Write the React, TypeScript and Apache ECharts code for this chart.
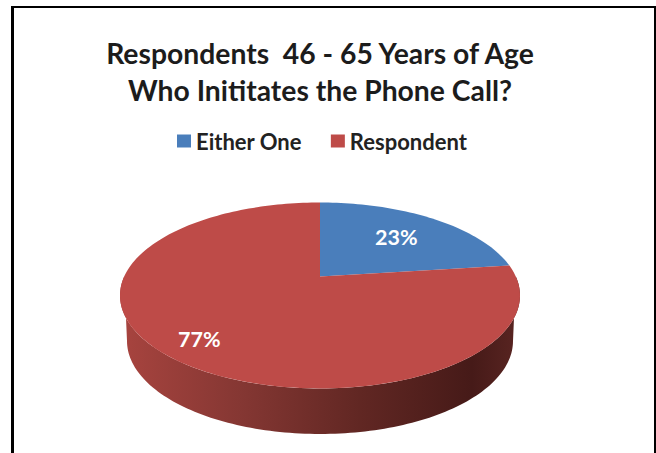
import React, { useEffect, useRef } from "react";
import * as echarts from "echarts";

const titleLines = ["Respondents  46 - 65 Years of Age", "Who Inititates the Phone Call?"];
const sliceNames = ["Either One", "Respondent"];
const sliceValues = [23, 77];
const sliceColors = ["#4a7ebb", "#be4b48"];
const labelInsets = [0.68, 0.79];

// Tilted pie: a projected unit circle whose centre sits above the middle of the ellipse.
const APEX_X = 320;
const APEX_Y = 276.5;
const SPREAD_X = 195.8;
const SPREAD_Y = 89.1;
const PERSPECTIVE = 0.204;
const WALL_DROP = 46;
const WALL_RX = 193;

const project = (turn: number) => {
  const a = turn * 2 * Math.PI;
  const u = Math.sin(a);
  const v = Math.cos(a);
  const d = 1 + PERSPECTIVE * v;
  return [APEX_X + (SPREAD_X * u) / d, APEX_Y - (SPREAD_Y * v) / d];
};

const total = sliceValues.reduce((s, v) => s + v, 0);

function rimPoints(fromTurn: number, toTurn: number) {
  const steps = Math.max(8, Math.ceil((toTurn - fromTurn) * 240));
  const pts: number[][] = [];
  for (let i = 0; i <= steps; i++) pts.push(project(fromTurn + ((toTurn - fromTurn) * i) / steps));
  return pts;
}

function wallPoints() {
  const top = rimPoints(0.25, 0.75);
  const cy = APEX_Y + 18.5 + WALL_DROP;
  const bottom: number[][] = [];
  for (let i = 0; i <= 120; i++) {
    const a = Math.PI - (Math.PI * i) / 120;
    bottom.push([APEX_X + WALL_RX * Math.cos(a), cy + 93 * Math.sin(a)]);
  }
  return [...top, ...bottom];
}

function sliceSeries(index: number) {
  const before = sliceValues.slice(0, index).reduce((s, v) => s + v, 0);
  return {
    type: "custom" as const,
    name: sliceNames[index],
    coordinateSystem: "none" as const,
    silent: true,
    z: 2,
    itemStyle: { color: sliceColors[index] },
    data: [[sliceValues[index], before]],
    renderItem: (_p: unknown, api: any) => {
      const value = api.value(0) as number;
      const start = (api.value(1) as number) / total;
      const end = start + value / total;
      const labelAt = project((start + end) / 2);
      const inset = labelInsets[index];
      return {
        type: "group",
        children: [
          {
            type: "polygon",
            shape: { points: [[APEX_X, APEX_Y], ...rimPoints(start, end)] },
            style: { fill: sliceColors[index] },
          },
          {
            type: "text",
            x: APEX_X + (labelAt[0] - APEX_X) * inset,
            y: APEX_Y + (labelAt[1] - APEX_Y) * inset,
            style: {
              text: `${value}%`,
              fill: "#ffffff",
              font: "bold 21.5px Lato",
              align: "center",
              verticalAlign: "middle",
            },
          },
        ],
      };
    },
  };
}

const wallSeries = {
  type: "custom" as const,
  coordinateSystem: "none" as const,
  silent: true,
  z: 1,
  data: [[0]],
  renderItem: () => ({
    type: "polygon",
    shape: { points: wallPoints() },
    style: {
      fill: new echarts.graphic.LinearGradient(0, 0, 1, 0, [
        { offset: 0, color: "#a8443f" },
        { offset: 0.3, color: "#853733" },
        { offset: 0.6, color: "#612723" },
        { offset: 0.88, color: "#461a18" },
        { offset: 1, color: "#5a2522" },
      ]),
    },
  }),
};

const frameLine = (x1: number, y1: number, x2: number, y2: number, lineWidth: number) => ({
  type: "line",
  shape: { x1, y1, x2, y2 },
  style: { stroke: "#000000", lineWidth },
  z: 10,
});

export default function App() {
  const ref = useRef<HTMLDivElement>(null);
  useEffect(() => {
    const chart = echarts.init(ref.current!, undefined, { renderer: "svg" });
    chart.setOption({
      animation: false,
      backgroundColor: "#ffffff",
      title: {
        text: titleLines.join("\n"),
        left: 320,
        textAlign: "center",
        top: 34,
        padding: 0,
        textStyle: {
          fontFamily: "Lato",
          fontWeight: "bold",
          fontSize: 28.3,
          lineHeight: 37,
          color: "#1c1c1c",
          textAlign: "center",
        },
      },
      legend: {
        data: sliceNames,
        top: 125,
        left: 172,
        icon: "rect",
        itemWidth: 14,
        itemHeight: 13,
        itemGap: 29,
        textStyle: { fontFamily: "Lato", fontWeight: "bold", fontSize: 22, color: "#222222" },
      },
      graphic: [
        frameLine(12.5, 6, 12.5, 453, 3),
        frameLine(11, 7, 656, 7, 2),
        frameLine(655, 6, 655, 453, 2),
      ],
      series: [wallSeries, sliceSeries(0), sliceSeries(1)],
    });
    return () => chart.dispose();
  }, []);
  return <div ref={ref} style={{ position: "fixed", left: 0, top: 0, width: 656, height: 453 }} />;
}
